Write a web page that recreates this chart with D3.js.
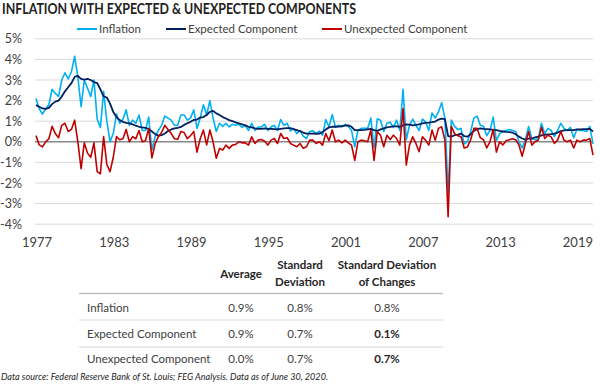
<!DOCTYPE html>
<html>
<head>
<meta charset="utf-8">
<script src="https://cdn.jsdelivr.net/npm/d3@7"></script>
<style>
  body { margin: 0; background: #fff; }
  text { font-family: Lato, "Open Sans", sans-serif; }
</style>
</head>
<body>
<script>
// quarterly values, 1977 Q1 .. 2020 Q2 (percent)
let inflation = [
  2.1, 1.6, 1.35, 1.6, 1.8, 2.55, 2.35, 2.2, 3.0, 3.35, 3.05, 3.4, 4.15, 3.15, 1.7, 3.0, 2.6, 2.2, 3.0, 1.1,
  0.7, 2.45, 1.0, 0.0, 0.4, 1.35, 0.9, 1.1, 1.55, 0.8, 1.05, 0.9, 1.3, 0.55, 0.55, 1.2, -0.4, 0.25, 0.55, 0.8,
  1.25, 1.15, 1.05, 0.8, 0.8, 1.3, 1.3, 1.05, 1.15, 1.55, 0.65, 1.15, 1.8, 1.3, 2.0, 1.15, 0.5, 0.9, 0.75, 0.9,
  0.72, 0.85, 0.8, 0.85, 0.7, 0.8, 0.55, 0.9, 0.55, 0.72, 0.72, 0.85, 0.55, 0.72, 0.8, 0.55, 1.08, 0.8, 0.9, 0.53,
  0.65, 0.4, 0.55, 0.28, 0.15, 0.5, 0.53, 0.4, 0.52, 0.32, 1.08, 0.72, 1.32, 0.72, 0.8, 0.72, 0.85, 0.75, 0.55, -0.25,
  0.55, 0.65, 0.65, 0.65, 1.15, -0.3, 1.12, 1.05, 0.5, 0.9, 0.95, 0.7, 1.05, 0.55, 2.55, 0.1, 0.8, 1.1, 0.8, 0.55,
  1.1, 0.97, 0.55, 1.4, 1.15, 1.45, 1.9, 1.15, -2.45, 1.05, 0.75, 0.6, 0.65, -0.1, 0.0, 0.5, 1.15, 1.25, 0.8, 0.75,
  0.3, 0.55, 1.2, 0.05, 0.4, 0.5, 0.55, 0.6, 0.55, 0.5, 0.0, -0.3, 0.1, 0.75, 0.15, 0.1, 0.15, 0.9, 0.4, 0.65,
  0.55, 0.25, 0.55, 0.9, 0.65, 0.55, 0.7, 0.2, 0.6, 0.55, 0.55, 0.5, 0.75, -0.1
];
let expected = [
  1.78, 1.7, 1.62, 1.6, 1.65, 1.83, 1.95, 2.0, 2.2, 2.45, 2.65, 2.85, 3.15, 3.2, 3.05, 3.02, 3.05, 3.0, 2.9, 2.85,
  2.55, 2.2, 2.15, 1.85, 1.45, 1.2, 1.05, 0.97, 0.92, 0.9, 0.85, 0.78, 0.73, 0.7, 0.68, 0.62, 0.5, 0.37, 0.3, 0.32,
  0.4, 0.52, 0.6, 0.65, 0.68, 0.72, 0.82, 0.9, 0.97, 1.06, 1.08, 1.18, 1.2, 1.3, 1.45, 1.5, 1.38, 1.3, 1.2, 1.13,
  1.05, 1.0, 0.94, 0.9, 0.85, 0.8, 0.73, 0.7, 0.65, 0.63, 0.63, 0.65, 0.63, 0.63, 0.62, 0.6, 0.63, 0.65, 0.66, 0.66,
  0.62, 0.57, 0.52, 0.45, 0.4, 0.4, 0.4, 0.39, 0.4, 0.47, 0.6, 0.7, 0.73, 0.73, 0.74, 0.76, 0.78, 0.8, 0.73, 0.57,
  0.57, 0.57, 0.58, 0.6, 0.63, 0.57, 0.53, 0.6, 0.65, 0.7, 0.72, 0.75, 0.75, 0.73, 0.8, 0.85, 0.83, 0.8, 0.82, 0.85,
  0.89, 0.92, 0.93, 0.95, 0.98, 1.08, 1.13, 1.1, 0.28, 0.25, 0.32, 0.35, 0.4, 0.28, 0.25, 0.37, 0.53, 0.62, 0.65, 0.63,
  0.62, 0.6, 0.58, 0.57, 0.53, 0.5, 0.48, 0.47, 0.44, 0.37, 0.25, 0.16, 0.11, 0.15, 0.16, 0.21, 0.25, 0.31, 0.34, 0.36,
  0.37, 0.4, 0.45, 0.52, 0.55, 0.57, 0.57, 0.57, 0.6, 0.6, 0.62, 0.62, 0.63, 0.5
];
let unexpected = [
  0.3, -0.15, -0.25, 0.0, 0.15, 0.75, 0.4, 0.2, 0.8, 0.9, 0.5, 0.6, 1.05, 0.0, -1.3, -0.05, -0.55, -0.75, -0.05, -1.45,
  -1.55, 0.25, -1.1, -1.45, -0.75, 0.25, 0.1, 0.15, 0.6, 0.0, 0.25, 0.15, 0.55, 0.0, 0.05, 0.65, -0.78, -0.1, 0.25, 0.45,
  0.8, 0.6, 0.4, 0.15, 0.12, 0.5, 0.45, 0.15, 0.3, 0.5, -0.5, 0.15, 0.57, -0.15, 0.57, 0.0, -0.8, -0.32, -0.4, -0.16,
  -0.32, -0.16, -0.13, 0.0, -0.05, -0.05, -0.16, 0.24, -0.08, 0.08, 0.11, 0.03, -0.16, 0.08, 0.16, -0.08, 0.4, 0.16, 0.2, -0.08,
  -0.16, -0.24, -0.08, -0.32, -0.24, 0.08, 0.08, -0.08, 0.0, -0.16, 0.4, 0.05, 0.57, 0.0, 0.08, -0.05, 0.08, -0.05, -0.16, -0.9,
  0.0, 0.08, 0.05, 0.0, 0.57, -0.9, 0.49, 0.32, -0.24, 0.32, 0.11, 0.32, 0.16, -0.16, 1.62, -1.13, -0.16, 0.24, -0.08, -0.48,
  0.24, 0.08, -0.16, 0.57, 0.08, 0.65, 0.73, 0.08, -3.64, 0.75, 0.4, 0.3, 0.25, -0.3, -0.25, 0.1, 0.65, 0.65, 0.2, 0.1,
  -0.3, 0.0, 0.6, -0.5, 0.0, -0.15, 0.05, 0.1, 0.15, 0.1, -0.16, -0.7, -0.08, 0.5, -0.16, 0.0, 0.08, 0.7, 0.16, 0.32,
  0.24, -0.08, 0.08, 0.5, 0.08, 0.0, 0.08, -0.3, 0.08, 0.0, 0.08, 0.08, 0.16, -0.65
];
let startYear = 1977;
let yTicks = [5, 4, 3, 2, 1, 0, -1, -2, -3, -4];
let seriesNames = ["Inflation", "Expected Component", "Unexpected Component"];

// summary table
let tableHeads = [["Average"], ["Standard", "Deviation"], ["Standard Deviation", "of Changes"]];
let rowNames = ["Inflation", "Expected Component", "Unexpected Component"];
let averages = ["0.9%", "0.9%", "0.0%"];
let stdDevs = ["0.8%", "0.7%", "0.7%"];
let stdChanges = ["0.8%", "0.1%", "0.7%"];

let w = 600, h = 386;
let colors = ["#00b0f0", "#002060", "#c00000"];
let widths = [1.6, 1.8, 1.6];

let svg = d3.select("body").append("svg").attr("width", w).attr("height", h);

// title
svg.append("text")
  .attr("x", 2).attr("y", 14)
  .attr("font-size", "15px").attr("font-weight", "bold").attr("fill", "#222")
  .attr("textLength", 354).attr("lengthAdjust", "spacingAndGlyphs")
  .text("INFLATION WITH EXPECTED & UNEXPECTED COMPONENTS");

let xScale = d3.scaleLinear().domain([0, inflation.length - 1]).range([36, 593]);
let yScale = d3.scaleLinear().domain([-4, 5]).range([224.2, 38.8]);

// grid
svg.append("g").selectAll("line").data(yTicks).enter().append("line")
  .attr("x1", 35).attr("x2", 593)
  .attr("y1", d => yScale(d)).attr("y2", d => yScale(d))
  .attr("stroke", d => d === 0 ? "#888" : "#d9d9d9")
  .attr("stroke-width", d => d === 0 ? 1.5 : 1);

// y labels
svg.append("g").selectAll("text").data(yTicks).enter().append("text")
  .attr("x", 22).attr("y", d => yScale(d) + 4.5)
  .attr("text-anchor", "end").attr("font-size", "12.5px").attr("fill", "#404040")
  .text(d => d + "%");

// x labels every 6 years
let xTicks = d3.range(0, inflation.length, 24);
svg.append("g").selectAll("text").data(xTicks).enter().append("text")
  .attr("x", d => xScale(d) + 1).attr("y", 247)
  .attr("text-anchor", "middle").attr("font-size", "13px").attr("fill", "#404040")
  .text(d => startYear + d / 4);

// lines
let line = d3.line().x((d, i) => xScale(i)).y(d => yScale(d));
[inflation, expected, unexpected].forEach(function (s, k) {
  svg.append("path").datum(s)
    .attr("d", line)
    .attr("fill", "none")
    .attr("stroke", colors[k])
    .attr("stroke-width", widths[k])
    .attr("stroke-linejoin", "round");
});

// legend
let legX = [77, 166, 322];
let leg = svg.append("g").selectAll("g").data(seriesNames).enter().append("g")
  .attr("transform", (d, i) => "translate(" + legX[i] + ",29)");
leg.append("line").attr("x1", 0).attr("x2", 20)
  .attr("stroke", (d, i) => colors[i]).attr("stroke-width", 2);
leg.append("text").attr("x", 22).attr("y", 4)
  .attr("font-size", "11.5px").attr("fill", "#404040")
  .text(d => d);

// table
let colX = [241, 300, 387];
tableHeads.forEach(function (lines, c) {
  let y0 = lines.length === 1 ? 278 : 269;
  lines.forEach(function (t, j) {
    svg.append("text")
      .attr("x", colX[c]).attr("y", y0 + j * 16.5)
      .attr("text-anchor", "middle").attr("font-size", "11.5px")
      .attr("font-weight", "bold").attr("fill", "#262626")
      .text(t);
  });
});

svg.append("line").attr("x1", 79).attr("x2", 443).attr("y1", 293.5).attr("y2", 293.5)
  .attr("stroke", "#bfbfbf").attr("stroke-width", 1.5);
[320, 347].forEach(function (y) {
  svg.append("line").attr("x1", 79).attr("x2", 443).attr("y1", y).attr("y2", y)
    .attr("stroke", "#d9d9d9").attr("stroke-width", 1);
});

let rowY = [312, 337.5, 362.5];
rowNames.forEach(function (name, r) {
  svg.append("text").attr("x", 87).attr("y", rowY[r])
    .attr("font-size", "11.5px").attr("fill", "#404040").text(name);
  [averages[r], stdDevs[r], stdChanges[r]].forEach(function (v, c) {
    svg.append("text").attr("x", colX[c]).attr("y", rowY[r])
      .attr("text-anchor", "middle").attr("font-size", "11.5px")
      .attr("font-weight", (c === 2 && r > 0) ? "bold" : "normal")
      .attr("fill", (c === 2 && r > 0) ? "#262626" : "#404040")
      .text(v);
  });
});

// footer
svg.append("text")
  .attr("x", 1).attr("y", 380)
  .attr("font-size", "10px").attr("font-style", "italic").attr("fill", "#262626")
  .attr("textLength", 327).attr("lengthAdjust", "spacingAndGlyphs")
  .text("Data source: Federal Reserve Bank of St. Louis; FEG Analysis. Data as of June 30, 2020.");
</script>
</body>
</html>
